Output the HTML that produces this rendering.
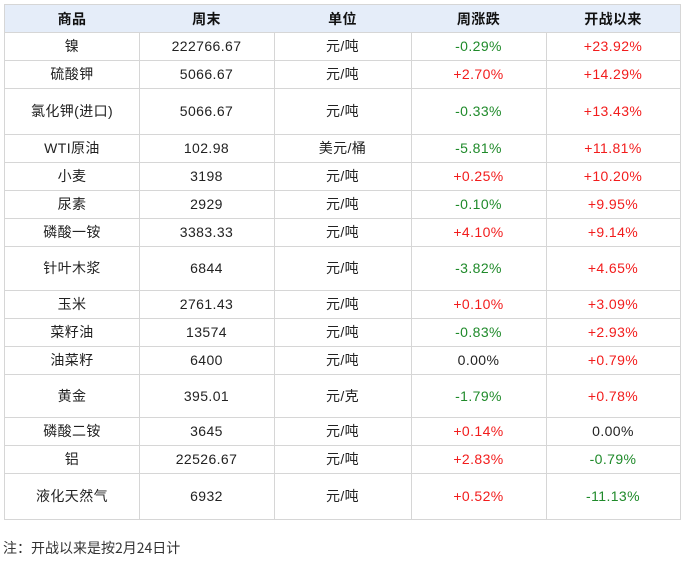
<!DOCTYPE html><html><head><meta charset="utf-8"><style>
body{margin:0;width:684px;height:561px;background:#fff;font-family:"Liberation Sans","Noto Sans CJK SC",sans-serif;font-size:14px;color:#222;position:relative;overflow:hidden}
.c{position:absolute;display:flex;align-items:center;justify-content:center;box-sizing:border-box;border-right:1px solid #d6d6d6;border-bottom:1px solid #d6d6d6;letter-spacing:0.4px}
.h{background:#e5edf9;font-weight:bold;color:#111}
.r{color:#f21c1c}.g{color:#1f8a2a}
</style></head><body>
<div id="t"></div>
<div style="position:absolute;left:3px;top:538px;font-size:14px;color:#333;font-family:'Noto Sans CJK SC',sans-serif">注：开战以来是按2月24日计</div>
<script>
var ys=[4,32,60,88,134,162,190,218,246,290,318,346,374,417,445,473,519];
var xs=[4,139,274,411,546,680];
var d=[["商品","周末","单位","周涨跌","开战以来"],
["镍","222766.67","元/吨","-0.29%","+23.92%"],
["硫酸钾","5066.67","元/吨","+2.70%","+14.29%"],
["氯化钾(进口)","5066.67","元/吨","-0.33%","+13.43%"],
["WTI原油","102.98","美元/桶","-5.81%","+11.81%"],
["小麦","3198","元/吨","+0.25%","+10.20%"],
["尿素","2929","元/吨","-0.10%","+9.95%"],
["磷酸一铵","3383.33","元/吨","+4.10%","+9.14%"],
["针叶木浆","6844","元/吨","-3.82%","+4.65%"],
["玉米","2761.43","元/吨","+0.10%","+3.09%"],
["菜籽油","13574","元/吨","-0.83%","+2.93%"],
["油菜籽","6400","元/吨","0.00%","+0.79%"],
["黄金","395.01","元/克","-1.79%","+0.78%"],
["磷酸二铵","3645","元/吨","+0.14%","0.00%"],
["铝","22526.67","元/吨","+2.83%","-0.79%"],
["液化天然气","6932","元/吨","+0.52%","-11.13%"]];
var h='';
for(var i=0;i<d.length;i++)for(var j=0;j<5;j++){
var v=d[i][j],cl='c';
if(i==0)cl+=' h';else if(j>=3){if(v[0]=='+')cl+=' r';else if(v[0]=='-')cl+=' g';}
var st='left:'+xs[j]+'px;top:'+ys[i]+'px;width:'+(xs[j+1]-xs[j]+1)+'px;height:'+(ys[i+1]-ys[i]+1)+'px;';
if(j==0)st+='border-left:1px solid #d6d6d6;';
if(i==0)st+='border-top:1px solid #d6d6d6;';
h+='<div class="'+cl+'" style="'+st+'">'+v+'</div>';}
document.getElementById('t').innerHTML=h;
</script></body></html>
